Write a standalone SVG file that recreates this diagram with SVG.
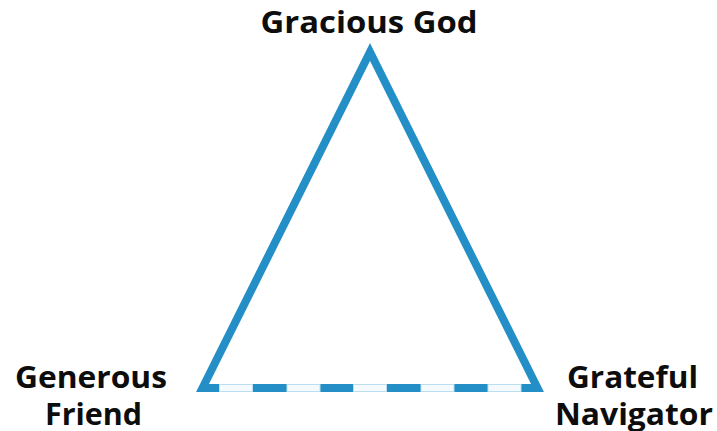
<svg xmlns="http://www.w3.org/2000/svg" width="717" height="431" viewBox="0 0 717 431">
<style>
.lbl{font-family:"Open Sans","Noto Sans","Liberation Sans",sans-serif;font-weight:700;font-size:31px;fill:#0d0d0d}
.gap{fill:#f4fafd;stroke:#bcdff0;stroke-width:1}
</style>
<rect width="717" height="431" fill="#ffffff"/>
<g id="connectors">
<polygon points="370,52 537.5,388 202.5,388" fill="none" stroke="#248fc6" stroke-width="8" stroke-linejoin="miter" stroke-miterlimit="10"/>
<g id="dashes">
<rect class="gap" x="219.5" y="384.5" width="33" height="7"/>
<rect class="gap" x="287" y="384.5" width="33" height="7"/>
<rect class="gap" x="353.5" y="384.5" width="33" height="7"/>
<rect class="gap" x="421" y="384.5" width="33" height="7"/>
<rect class="gap" x="488" y="384.5" width="33" height="7"/>
</g>
</g>
<g id="node-god"><text class="lbl" x="369" y="33" text-anchor="middle" textLength="217" lengthAdjust="spacingAndGlyphs">Gracious God</text></g>
<g id="node-friend">
<text class="lbl" x="91" y="388" text-anchor="middle" textLength="152" lengthAdjust="spacingAndGlyphs">Generous</text>
<text class="lbl" x="93.5" y="425" text-anchor="middle" textLength="97" lengthAdjust="spacingAndGlyphs">Friend</text>
</g>
<g id="node-navigator">
<text class="lbl" x="632.5" y="388" text-anchor="middle" textLength="131" lengthAdjust="spacingAndGlyphs">Grateful</text>
<text class="lbl" x="634" y="425" text-anchor="middle" textLength="158" lengthAdjust="spacingAndGlyphs">Navigator</text>
</g>
</svg>
